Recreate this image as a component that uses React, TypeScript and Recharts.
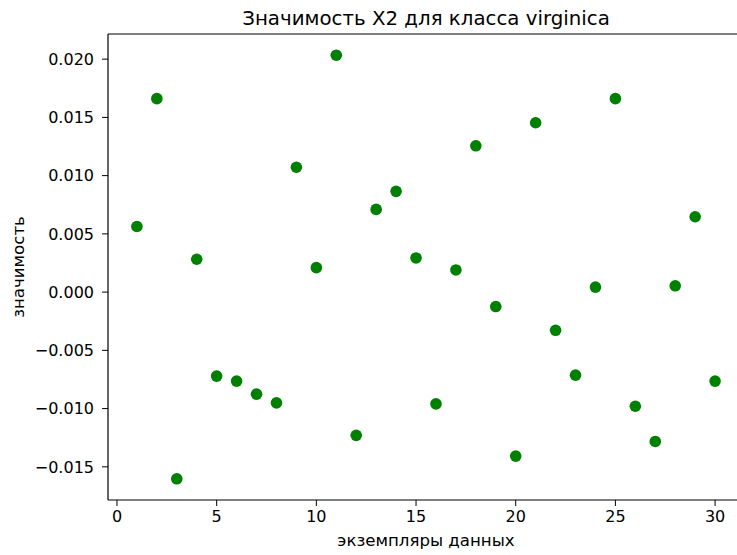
import React from "react";
import {
  ScatterChart,
  Scatter,
  XAxis,
  YAxis,
  ReferenceLine,
} from "recharts";

// sample index on the x axis
const sampleIds = [
  1, 2, 3, 4, 5, 6, 7, 8, 9, 10, 11, 12, 13, 14, 15, 16, 17, 18, 19, 20, 21,
  22, 23, 24, 25, 26, 27, 28, 29, 30,
];

// importance of feature X2 for the virginica class
const importance = [
  0.00563, 0.01661, -0.01603, 0.00282, -0.00721, -0.00764, -0.00876, -0.00951,
  0.01072, 0.0021, 0.02034, -0.0123, 0.0071, 0.00865, 0.00293, -0.0096, 0.0019,
  0.01256, -0.00124, -0.01408, 0.01454, -0.00328, -0.00713, 0.00043, 0.01661,
  -0.0098, -0.01282, 0.00054, 0.00647, -0.00764,
];

const xTicks = [0, 5, 10, 15, 20, 25, 30];
const yTicks = [-0.015, -0.01, -0.005, 0, 0.005, 0.01, 0.015, 0.02];

const title = "Значимость X2 для класса virginica";
const xLabel = "экземпляры данных";
const yLabel = "значимость";

const points = sampleIds.map((id, i) => ({ id, value: importance[i] }));

// matplotlib-style 5% padding around the data
const pad = (min: number, max: number): [number, number] => {
  const m = (max - min) * 0.05;
  return [min - m, max + m];
};
const xDomain = pad(Math.min(...sampleIds), Math.max(...sampleIds));
const yDomain = pad(Math.min(...importance), Math.max(...importance));

const FONT = "DejaVu Sans, sans-serif";
const INK = "#000";

const fmtY = (v: number) => v.toFixed(3).replace("-", "\u2212");

const Dot = (props: any) => (
  <circle cx={props.cx} cy={props.cy} r={5.8} fill="#008000" />
);

const App = () => {
  return (
    <div
      style={{
        position: "absolute",
        top: 0,
        left: 0,
        width: 737,
        height: 555,
        overflow: "hidden",
        background: "#fff",
      }}
    >
      <ScatterChart
        width={760}
        height={555}
        margin={{ top: 34, right: 16, bottom: 0, left: 0 }}
      >
        <XAxis
          type="number"
          dataKey="id"
          domain={xDomain}
          ticks={xTicks}
          allowDataOverflow
          height={55}
          tickSize={6}
          tickMargin={5}
          axisLine={{ stroke: INK, strokeWidth: 1.2 }}
          tickLine={{ stroke: INK, strokeWidth: 1 }}
          tick={{ fill: INK, fontSize: 16, fontFamily: FONT }}
        />
        <YAxis
          type="number"
          dataKey="value"
          domain={yDomain}
          ticks={yTicks}
          allowDataOverflow
          width={108}
          tickSize={6}
          tickMargin={8}
          tickFormatter={fmtY}
          axisLine={{ stroke: INK, strokeWidth: 1.2 }}
          tickLine={{ stroke: INK, strokeWidth: 1 }}
          tick={{ fill: INK, fontSize: 16, fontFamily: FONT }}
        />
        <ReferenceLine
          y={yDomain[1]}
          stroke={INK}
          strokeWidth={1.2}
          ifOverflow="visible"
        />
        <ReferenceLine
          x={xDomain[1]}
          stroke={INK}
          strokeWidth={1.2}
          ifOverflow="visible"
        />
        <Scatter data={points} shape={Dot} isAnimationActive={false} />
      </ScatterChart>

      <svg
        width={737}
        height={555}
        style={{ position: "absolute", top: 0, left: 0, pointerEvents: "none" }}
        fontFamily={FONT}
        fill={INK}
      >
        <text x={426} y={25} textAnchor="middle" fontSize={19.8}>
          {title}
        </text>
        <text x={426} y={546} textAnchor="middle" fontSize={16.6}>
          {xLabel}
        </text>
        <text
          x={24}
          y={267}
          textAnchor="middle"
          fontSize={16.6}
          transform="rotate(-90 24 267)"
        >
          {yLabel}
        </text>
      </svg>
    </div>
  );
};

export default App;
